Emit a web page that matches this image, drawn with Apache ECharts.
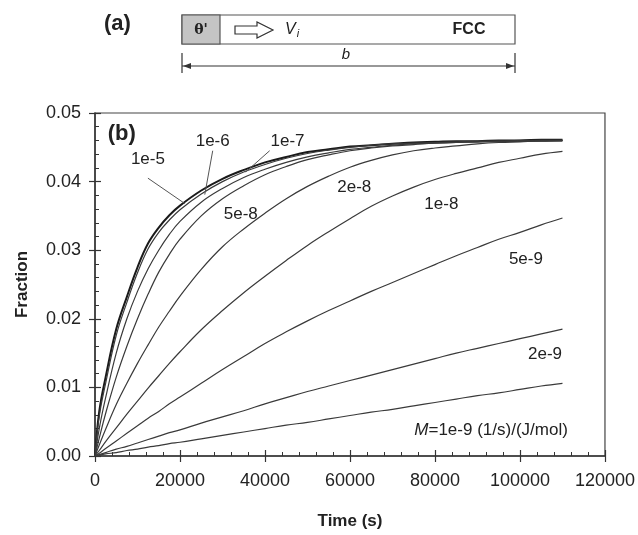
<!DOCTYPE html>
<html>
<head>
<meta charset="utf-8">
<script src="https://cdn.jsdelivr.net/npm/echarts@6/dist/echarts.min.js"></script>
<style>
  html, body { margin: 0; padding: 0; background: #fff; }
  #chart { width: 638px; height: 535px; }
</style>
</head>
<body>
<div id="chart"></div>
<script>
// time points (s)
const times = [0, 1000, 2500, 5000, 7500, 10000, 12500, 15000, 17500,
  20000, 25000, 30000, 35000, 40000, 45000, 50000, 55000, 60000, 65000, 70000,
  75000, 80000, 85000, 90000, 95000, 100000, 105000, 110000];

// fraction for each mobility M
const m1e5 = [0, .0065, .0115, .0185, .0232, .0275, .0310, .0333, .0351, .0365, .0387, .0404, .0417, .0428, .0436, .0443, .0447, .0451, .0453, .0455, .0457, .0458, .0459, .0459, .0460, .0460, .0461, .0461];
const m1e6 = [0, .0058, .0106, .0176, .0224, .0267, .0302, .0326, .0344, .0359, .0382, .0400, .0414, .0425, .0434, .0441, .0446, .0450, .0453, .0455, .0456, .0457, .0458, .0459, .0459, .0460, .0460, .0460];
const m1e7 = [0, .0040, .0085, .0150, .0200, .0240, .0273, .0300, .0323, .0342, .0370, .0390, .0406, .0418, .0428, .0436, .0442, .0447, .0450, .0453, .0455, .0456, .0457, .0458, .0459, .0459, .0460, .0460];
const m5e8 = [0, .0026, .0062, .0115, .0160, .0200, .0236, .0268, .0294, .0316, .0350, .0375, .0394, .0410, .0422, .0432, .0439, .0445, .0449, .0452, .0454, .0456, .0457, .0458, .0458, .0459, .0459, .0460];
const m2e8 = [0, .0016, .0039, .0075, .0106, .0135, .0162, .0188, .0211, .0233, .0272, .0305, .0331, .0354, .0375, .0393, .0408, .0421, .0431, .0439, .0445, .0449, .0452, .0455, .0457, .0458, .0459, .0459];
const m1e8 = [0, .0008, .0021, .0041, .0061, .0080, .0099, .0117, .0135, .0152, .0184, .0212, .0238, .0262, .0285, .0307, .0327, .0346, .0364, .0379, .0392, .0403, .0412, .0420, .0428, .0434, .0440, .0444];
const m5e9 = [0, .0004, .0011, .0022, .0033, .0044, .0055, .0065, .0076, .0086, .0106, .0126, .0145, .0164, .0181, .0197, .0212, .0226, .0240, .0253, .0266, .0279, .0292, .0304, .0316, .0326, .0337, .0347];
const m2e9 = [0, .0002, .0005, .0010, .0014, .0019, .0024, .0029, .0034, .0038, .0048, .0057, .0066, .0076, .0085, .0094, .0102, .0110, .0118, .0126, .0134, .0142, .0150, .0157, .0164, .0171, .0178, .0185];
const m1e9 = [0, .0001, .0003, .0005, .0008, .0010, .0013, .0015, .0018, .0020, .0025, .0030, .0035, .0040, .0045, .0049, .0054, .0059, .0064, .0068, .0073, .0078, .0083, .0088, .0092, .0097, .0102, .0106];

const curveNames = ['1e-5', '1e-6', '1e-7', '5e-8', '2e-8', '1e-8', '5e-9', '2e-9', '1e-9'];
const curveVals = [m1e5, m1e6, m1e7, m5e8, m2e8, m1e8, m5e9, m2e9, m1e9];

// axis ticks
const xTicks = [0, 20000, 40000, 60000, 80000, 100000, 120000];
const yTicks = [0, 0.01, 0.02, 0.03, 0.04, 0.05];

// curve labels, in data units [time, fraction]
const curveLabels = [
  ['(b)', 6300, 0.0469],
  ['1e-5', 12450, 0.0432],
  ['1e-6', 27700, 0.0458],
  ['1e-7', 45300, 0.0458],
  ['5e-8', 34300, 0.0353],
  ['2e-8', 61000, 0.0391],
  ['1e-8', 81500, 0.0367],
  ['5e-9', 101400, 0.0287],
  ['2e-9', 105900, 0.0148],
  ['M', 93200, 0.0038]
];
// leader lines from label to curve
const leaders = [
  [[12450, 0.0405], [21130, 0.0368]],
  [[27700, 0.0445], [25830, 0.0381]],
  [[41100, 0.0445], [35460, 0.0414]]
];

const FONT = 'Arial, "Liberation Sans", sans-serif';
const INK = '#222';

var chart = echarts.init(document.getElementById('chart'));

var series = curveVals.map(function (vals, i) {
  return {
    name: curveNames[i],
    type: 'line',
    xAxisIndex: 0,
    yAxisIndex: 0,
    data: times.map(function (t, k) { return [t, vals[k]]; }),
    smooth: 0.4,
    showSymbol: false,
    silent: true,
    lineStyle: { color: i === 0 ? '#1a1a1a' : '#3a3a3a', width: i === 0 ? 2 : 1.2 },
    z: 3
  };
});

series[0].markLine = {
  silent: true,
  symbol: ['none', 'none'],
  label: { show: false },
  lineStyle: { color: '#555', width: 1, type: 'solid' },
  data: leaders.map(function (l) { return [{ coord: l[0] }, { coord: l[1] }]; })
};

series[0].markPoint = {
  silent: true,
  symbol: 'circle',
  symbolSize: 0,
  data: curveLabels.map(function (c) {
    var isB = c[0] === '(b)';
    var isM = c[0] === 'M';
    return {
      coord: [c[1], c[2]],
      label: {
        show: true,
        position: 'inside',
        formatter: isM ? '{i|M}=1e-9 (1/s)/(J/mol)' : c[0],
        fontFamily: FONT,
        fontSize: isB ? 22 : 17,
        fontWeight: isB ? 'bold' : 'normal',
        color: INK,
        rich: { i: { fontStyle: 'italic', fontSize: 17, fontFamily: FONT, color: INK } }
      }
    };
  })
};

var baseX = {
  type: 'value', min: 0, max: 120000, interval: 20000,
  splitLine: { show: false }
};
var baseY = {
  type: 'value', min: 0, max: 0.05, interval: 0.01,
  splitLine: { show: false }
};

chart.setOption({
  backgroundColor: '#fff',
  animation: false,
  grid: {
    left: 95, right: 32, top: 113, bottom: 68,
    show: true, borderColor: '#444', borderWidth: 1.2
  },
  xAxis: [
    Object.assign({}, baseX, {
      position: 'bottom',
      name: 'Time (s)', nameLocation: 'middle', nameGap: 57,
      nameTextStyle: { fontFamily: FONT, fontSize: 17, fontWeight: 'bold', color: INK },
      axisLine: { lineStyle: { color: '#333', width: 1.5 } },
      axisTick: { inside: true, length: 6, lineStyle: { color: '#333', width: 1.2 } },
      minorTick: { show: true, splitNumber: 5, length: 4, lineStyle: { color: '#333', width: 1 } },
      axisLabel: {
        margin: 16, fontFamily: FONT, fontSize: 18, color: INK,
        formatter: function (v) { return xTicks.indexOf(v) >= 0 ? String(v) : ''; }
      }
    }),
    Object.assign({}, baseX, {
      position: 'bottom',
      axisLine: { show: false },
      axisTick: { inside: false, length: 6, lineStyle: { color: '#333', width: 1.2 } },
      axisLabel: { show: false }
    })
  ],
  yAxis: [
    Object.assign({}, baseY, {
      position: 'left',
      name: 'Fraction', nameLocation: 'middle', nameGap: 64,
      nameTextStyle: { fontFamily: FONT, fontSize: 17, fontWeight: 'bold', color: INK },
      axisLine: { lineStyle: { color: '#333', width: 1.5 } },
      axisTick: { inside: true, length: 6, lineStyle: { color: '#333', width: 1.2 } },
      minorTick: { show: true, splitNumber: 5, length: 4, lineStyle: { color: '#333', width: 1 } },
      axisLabel: {
        margin: 14, fontFamily: FONT, fontSize: 18, color: INK,
        formatter: function (v) {
          var k = yTicks.findIndex(function (t) { return Math.abs(t - v) < 1e-9; });
          return k >= 0 ? yTicks[k].toFixed(2) : '';
        }
      }
    }),
    Object.assign({}, baseY, {
      position: 'left',
      axisLine: { show: false },
      axisTick: { inside: false, length: 6, lineStyle: { color: '#333', width: 1.2 } },
      axisLabel: { show: false }
    })
  ],
  // panel (a): schematic of the cell
  graphic: [
    { type: 'text', left: 104, top: 13, style: { text: '(a)', font: 'bold 22px ' + FONT, fill: INK } },
    { type: 'rect', shape: { x: 182, y: 15, width: 333, height: 29 }, style: { fill: '#fff', stroke: '#555', lineWidth: 1.2 } },
    { type: 'rect', shape: { x: 182, y: 15, width: 38, height: 29 }, style: { fill: '#c4c4c4', stroke: '#555', lineWidth: 1.2 } },
    { type: 'text', x: 201, y: 30, style: { text: "θ'", font: 'bold 14px "DejaVu Serif", serif', fill: INK, align: 'center', verticalAlign: 'middle' } },
    { type: 'polygon', shape: { points: [[235, 26], [257, 26], [257, 22], [273, 30], [257, 38], [257, 34], [235, 34]] }, style: { fill: '#fff', stroke: '#333', lineWidth: 1.2 } },
    { type: 'text', x: 285, y: 30, style: { text: '{v|V}{s|i}', rich: { v: { font: 'italic 16px ' + FONT, fill: INK }, s: { font: 'italic 11px ' + FONT, fill: INK, padding: [8, 0, 0, 1] } }, verticalAlign: 'middle' } },
    { type: 'text', x: 469, y: 30, style: { text: 'FCC', font: 'bold 16px ' + FONT, fill: INK, align: 'center', verticalAlign: 'middle' } },
    { type: 'text', x: 346, y: 55, style: { text: 'b', font: 'italic 15px ' + FONT, fill: INK, align: 'center', verticalAlign: 'middle' } },
    { type: 'line', shape: { x1: 182, y1: 66, x2: 515, y2: 66 }, style: { stroke: '#333', lineWidth: 1.2 } },
    { type: 'line', shape: { x1: 182, y1: 53, x2: 182, y2: 73 }, style: { stroke: '#333', lineWidth: 1.2 } },
    { type: 'line', shape: { x1: 515, y1: 53, x2: 515, y2: 73 }, style: { stroke: '#333', lineWidth: 1.2 } },
    { type: 'polygon', shape: { points: [[183, 66], [191, 63], [191, 69]] }, style: { fill: '#333' } },
    { type: 'polygon', shape: { points: [[514, 66], [506, 63], [506, 69]] }, style: { fill: '#333' } }
  ],
  series: series
});
</script>
</body>
</html>
